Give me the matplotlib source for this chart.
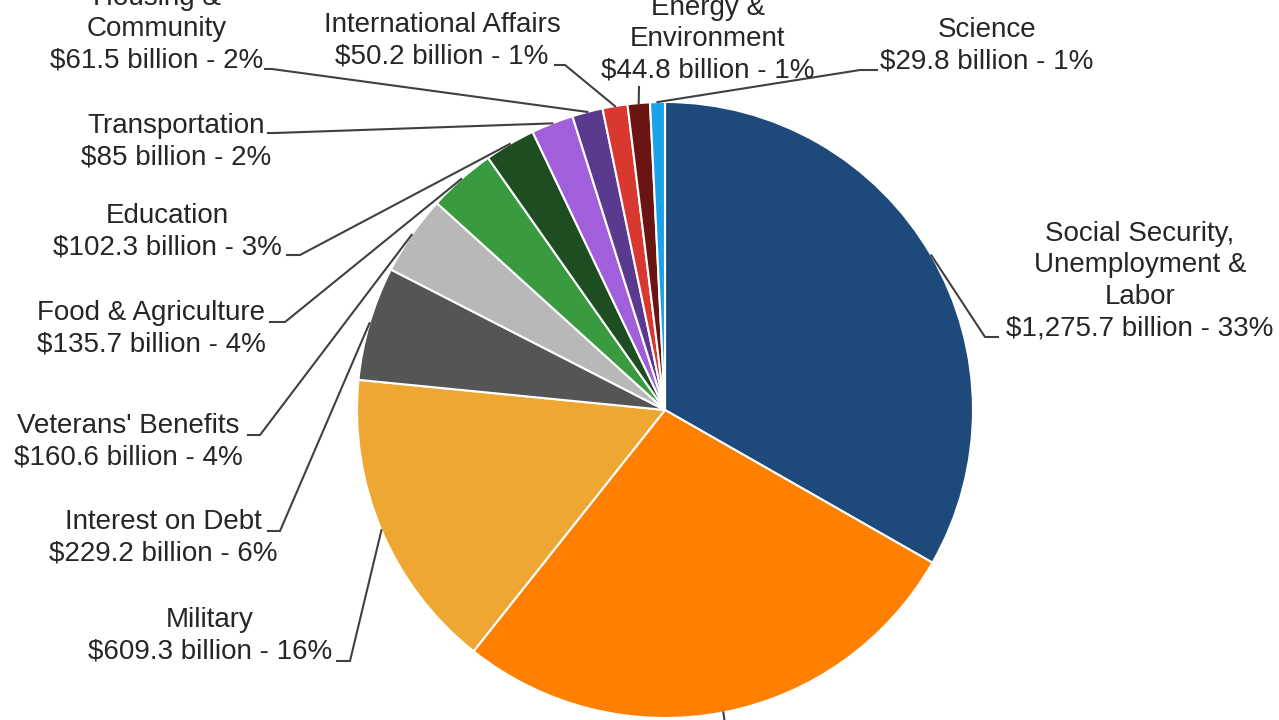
import numpy as np
import matplotlib.pyplot as plt

plt.rcParams['font.family'] = ['Liberation Sans', 'DejaVu Sans']

# federal spending by category, billions of dollars
names = ["Social Security,\nUnemployment &\nLabor", "Medicare & Health", "Military",
         "Interest on Debt", "Veterans' Benefits", "Food & Agriculture", "Education",
         "Transportation", "Housing &\nCommunity", "International Affairs",
         "Energy &\nEnvironment", "Science"]
values = np.array([1275.7, 1051.8, 609.3, 229.2, 160.6, 135.7, 102.3,
                   85, 61.5, 50.2, 44.8, 29.8])
colors = ['#1d4a7a', '#ff8000', '#efa733', '#555555', '#b8b8b8', '#3a9a3f',
          '#1e4d22', '#a25fdc', '#5a3a8e', '#d8382f', '#6b1414', '#1aa3ea']

# label layout in pixels: text centre, then leader elbow and end (None = no label drawn)
label_xy = [(1140, 281), None, (210, 636), (163, 538), (128, 442), (151, 329),
            (167, 232), (176, 142), (157, 29), (442, 41), (708, 39), (987, 46)]
leader = [[(985, 337), (998, 337)], [(730, 760)], [(350, 661), (337, 661)],
          [(280, 531), (268, 531)], [(260, 435), (248, 435)], [(285, 322), (270, 322)],
          [(300, 255), (287, 255)], [(275, 133), (268, 133)], [(272, 69), (265, 69)],
          [(565, 65), (555, 65)], [(639, 87)], [(860, 70), (877, 70)]]

cx, cy, r = 665, 410, 308
total = values.sum()

fig = plt.figure(figsize=(12.79, 7.2), dpi=100)
ax = fig.add_axes([0, 0, 1, 1])
wedges, _ = ax.pie(values, colors=colors, startangle=-90, counterclock=True,
                   center=(cx, cy), radius=r,
                   wedgeprops=dict(edgecolor='white', linewidth=1.5))
ax.set_aspect('auto')
ax.set_xlim(0, 1279)
ax.set_ylim(720, 0)
ax.axis('off')

for i, w in enumerate(wedges):
    mid = np.deg2rad((w.theta1 + w.theta2) / 2)
    pts = [(cx + r * np.cos(mid), cy + r * np.sin(mid))] + leader[i]
    xs, ys = zip(*pts)
    ax.plot(xs, ys, color='#404040', lw=1.5, clip_on=True)
    if label_xy[i] is None:
        continue
    v = values[i]
    vtxt = f"{v:,.0f}" if v == int(v) else f"{v:,.1f}"
    txt = f"{names[i]}\n${vtxt} billion - {round(v / total * 100):.0f}%"
    ax.text(label_xy[i][0], label_xy[i][1], txt, ha='center', va='center',
            multialignment='center', fontsize=20, linespacing=1.27, color='#262626')

fig.savefig("out.png", dpi=100)
